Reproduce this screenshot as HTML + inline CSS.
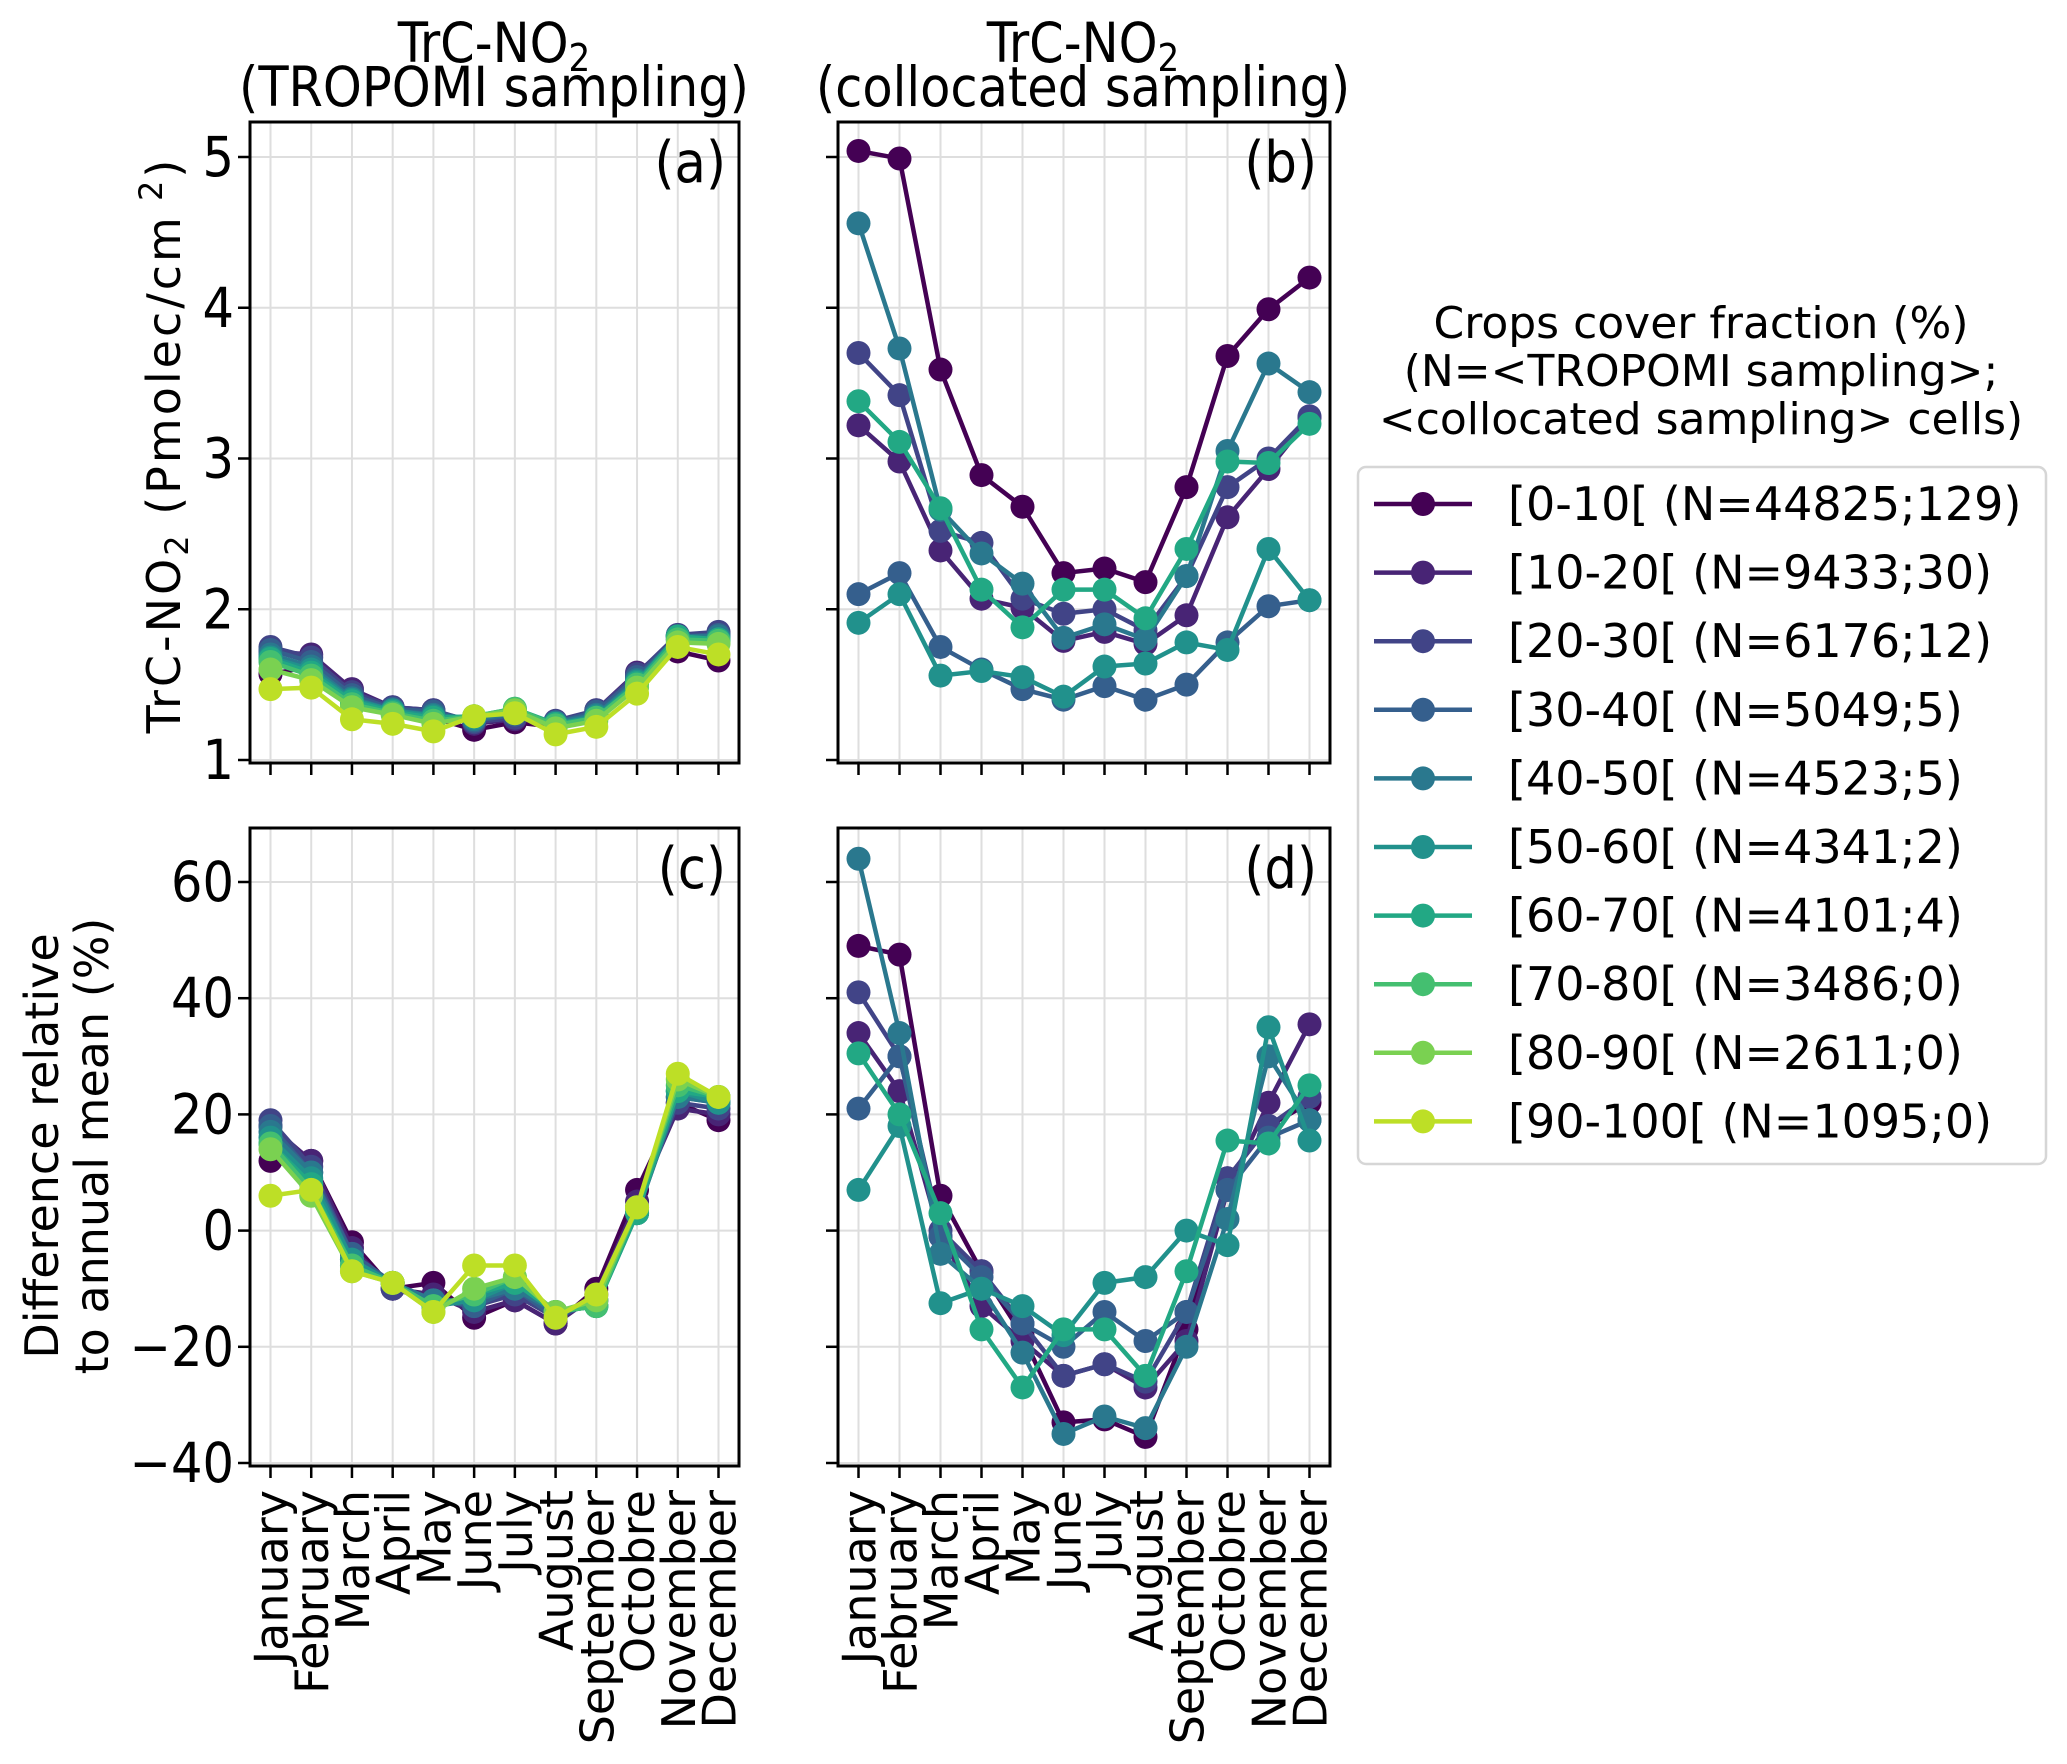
<!DOCTYPE html>
<html><head><meta charset="utf-8"><style>
html,body{margin:0;padding:0;background:#fff;}
svg{display:block;}
.c{font-family:"DejaVu Sans Condensed","DejaVu Sans","Liberation Sans",sans-serif;font-stretch:condensed;}
.n{font-family:"DejaVu Sans","Liberation Sans",sans-serif;}
</style></head><body>
<svg id="fig" width="2067" height="1764" viewBox="0 0 2067 1764" xmlns="http://www.w3.org/2000/svg"></svg>
<script>
const months = ["January","February","March","April","May","June","July","August","September","Octobre","November","December"];
const seriesLabels = ["[0-10[ (N=44825;129)","[10-20[ (N=9433;30)","[20-30[ (N=6176;12)","[30-40[ (N=5049;5)","[40-50[ (N=4523;5)","[50-60[ (N=4341;2)","[60-70[ (N=4101;4)","[70-80[ (N=3486;0)","[80-90[ (N=2611;0)","[90-100[ (N=1095;0)"];
const colors = ["#440154","#482475","#414487","#355f8d","#2a788e","#21918c","#22a884","#44bf70","#7ad151","#bddf26"];
const yTicksTop = [1,2,3,4,5];
const yTicksBottom = [-40,-20,0,20,40,60];
const dataA = [
[1.57,1.62,1.40,1.31,1.28,1.20,1.25,1.22,1.30,1.55,1.72,1.66],
[1.72,1.70,1.47,1.35,1.33,1.24,1.27,1.25,1.33,1.58,1.80,1.84],
[1.75,1.68,1.45,1.35,1.33,1.25,1.28,1.26,1.33,1.57,1.83,1.85],
[1.73,1.65,1.43,1.34,1.32,1.26,1.30,1.25,1.32,1.55,1.82,1.83],
[1.70,1.62,1.41,1.33,1.30,1.27,1.31,1.25,1.30,1.53,1.82,1.82],
[1.68,1.60,1.40,1.33,1.29,1.28,1.33,1.24,1.29,1.52,1.82,1.80],
[1.67,1.58,1.39,1.32,1.28,1.29,1.34,1.24,1.28,1.51,1.82,1.80],
[1.65,1.56,1.37,1.31,1.26,1.29,1.34,1.23,1.28,1.50,1.80,1.79],
[1.60,1.53,1.35,1.30,1.24,1.29,1.33,1.21,1.26,1.48,1.78,1.77],
[1.47,1.48,1.27,1.24,1.19,1.29,1.31,1.17,1.22,1.44,1.75,1.70]];
const dataB = [
[5.04,4.99,3.59,2.89,2.68,2.24,2.27,2.18,2.81,3.68,3.99,4.20],
[3.22,2.98,2.39,2.07,2.01,1.79,1.85,1.77,1.96,2.61,2.93,3.27],
[3.70,3.42,2.52,2.44,2.07,1.97,2.00,1.86,2.22,2.81,3.00,3.28],
[2.10,2.24,1.75,1.60,1.47,1.40,1.49,1.40,1.50,1.78,2.02,2.06],
[4.56,3.73,2.66,2.37,2.17,1.81,1.90,1.80,2.22,3.05,3.63,3.44],
[1.91,2.10,1.56,1.59,1.55,1.42,1.62,1.64,1.78,1.73,2.40,2.06],
[3.38,3.11,2.67,2.13,1.88,2.13,2.13,1.94,2.40,2.98,2.97,3.23]];
const dataC = [
[12,12,-2,-10,-9,-15,-12,-16,-10,7,22,19],
[18,12,-3,-10,-11,-14,-12,-16,-11,5,21,20],
[19,11,-4,-10,-12,-13,-11,-15,-12,4,22,21],
[18,10,-4,-9,-12,-13,-10,-15,-12,3,23,22],
[17,10,-5,-9,-12,-12,-10,-14,-13,3,23,22],
[16,9,-5,-9,-13,-12,-9,-14,-13,3,24,22],
[15,8,-6,-9,-13,-11,-9,-14,-13,3,24,23],
[15,7,-6,-9,-13,-11,-8,-14,-13,4,25,23],
[14,6,-7,-9,-14,-10,-8,-14,-12,4,26,23],
[6,7,-7,-9,-14,-6,-6,-15,-11,4,27,23]];
const dataD = [
[49,47.5,6,-7,-18,-33,-32.5,-35.5,-17,9,18,22],
[34,24,-1,-13,-19,-25,-23,-27,-19,7,22,35.5],
[41,30,0,-7,-16,-25,-23,-26,-14,9,18,23],
[21,30,-1,-8,-16,-20,-14,-19,-14,7,16,19],
[64,34,-4,-10,-21,-35,-32,-34,-20,2,30,19],
[7,18,-12.5,-10,-13,-18,-9,-8,0,-2.5,35,15.5],
[30.5,20,3,-17,-27,-17,-17,-25,-7,15.5,15,25]];

const NS="http://www.w3.org/2000/svg";
const svg=document.getElementById('fig');
function el(tag,attrs,parent,text){const e=document.createElementNS(NS,tag);for(const k in attrs)e.setAttribute(k,attrs[k]);if(text!==undefined)e.textContent=text;(parent||svg).appendChild(e);return e;}

function panel(name,L,R,T,B,ymin,ymax,yTicks,showYLabels,showX,data,letter){
  const g=el('g',{});
  
  
  const x0=L+20.5,x1=R-20.5;
  const xs=i=>x0+(x1-x0)*i/(months.length-1);
  const ys=v=>B-(v-ymin)/(ymax-ymin)*(B-T);
  months.forEach((m,i)=>{
    el('line',{x1:xs(i),x2:xs(i),y1:T,y2:B,stroke:'#dedede','stroke-width':2},g);
    const t=el('line',{x1:xs(i),x2:xs(i),y1:B,y2:B+12,stroke:'#000','stroke-width':2.5},g);
    
    
    if(showX){
      const tx=el('text',{x:xs(i)+17,y:B+24,transform:`rotate(-90 ${xs(i)+17} ${B+24})`,'text-anchor':'end','font-size':46,class:'n'},g,m);
      
      
    }
  });
  yTicks.forEach(v=>{
    el('line',{x1:L,x2:R,y1:ys(v),y2:ys(v),stroke:'#dedede','stroke-width':2},g);
    el('line',{x1:L-12,x2:L,y1:ys(v),y2:ys(v),stroke:'#000','stroke-width':2.5},g);
    if(showYLabels){
      const s=v<0?'\u2212'+(-v):String(v);
      const tl=el('text',{x:L-16,y:ys(v)+19,'text-anchor':'end','font-size':55,class:'c'},g,s);
      
      
    }
  });
  data.forEach((row,si)=>{
    const sg=el('g',{},g);
    
    
    el('polyline',{points:row.map((v,i)=>xs(i)+','+ys(v)).join(' '),fill:'none',stroke:colors[si],'stroke-width':4.5,'stroke-linejoin':'round'},sg);
    row.forEach((v,i)=>{
      const c=el('circle',{cx:xs(i),cy:ys(v),r:12,fill:colors[si]},sg);
      
      
    });
  });
  const fr=el('rect',{x:L,y:T,width:R-L,height:B-T,fill:'none',stroke:'#000','stroke-width':3},g);
  
  
  const lt=el('text',{x:R-13,y:T+60,'text-anchor':'end','font-size':57,class:'c'},g,letter);
  
  
  return {xs,ys};
}
const TopT=122,TopB=763,BotT=828,BotB=1466;
const topMin=1-(763-760)/150.75, topMax=5+(157-122)/150.75;
const botPer=(1463-882)/100;
const botMin=-40-(1466-1463)/botPer, botMax=60+(882-828)/botPer;
panel('a',250,739,TopT,TopB,topMin,topMax,yTicksTop,true,false,dataA,'(a)');
panel('b',838,1330,TopT,TopB,topMin,topMax,yTicksTop,false,false,dataB,'(b)');
panel('c',250,739,BotT,BotB,botMin,botMax,yTicksBottom,true,true,dataC,'(c)');
panel('d',838,1330,BotT,BotB,botMin,botMax,yTicksBottom,false,true,dataD,'(d)');

function title(cx,l2,nm){
  const t=el('text',{x:cx,y:62,'text-anchor':'middle','font-size':55,class:'c'});
  
  
  t.appendChild(document.createTextNode('TrC-NO'));
  el('tspan',{'font-size':38,dy:9},t,'2');
  el('text',{x:cx,y:106,'text-anchor':'middle','font-size':55,class:'c'},undefined,l2);
}
title(494,'(TROPOMI sampling)','panel-a');
title(1083,'(collocated sampling)','panel-b');

const yl=el('text',{x:180,y:445,transform:'rotate(-90 180 445)','text-anchor':'middle','font-size':46,class:'n','letter-spacing':3});


yl.appendChild(document.createTextNode('TrC-NO'));
el('tspan',{'font-size':32,dy:8},yl,'2');
el('tspan',{dy:-8},yl,'  (Pmolec/cm');
el('tspan',{'font-size':32,dy:-18},yl,' 2');
el('tspan',{dy:18},yl,')');
const yb=el('text',{x:0,y:0,transform:'translate(58 1146) rotate(-90)','text-anchor':'middle','font-size':46,class:'n'});


el('tspan',{x:0,y:0},yb,'Difference relative');
el('tspan',{x:0,y:50},yb,'to annual mean (%)');

const lg=el('g',{});


['Crops cover fraction (%)','(N=<TROPOMI sampling>;','<collocated sampling> cells)'].forEach((s,i)=>{
  el('text',{x:1701,y:338+i*48,'text-anchor':'middle','font-size':44,class:'n'},lg,s);
});
el('rect',{x:1358,y:467,width:688,height:697,rx:8,fill:'#fff',stroke:'#d6d6d6','stroke-width':2.5},lg);
seriesLabels.forEach((s,i)=>{
  const y=504+i*68.6;
  const e=el('g',{},lg);
  
  
  el('line',{x1:1374,x2:1472,y1:y,y2:y,stroke:colors[i],'stroke-width':4.5},e);
  el('circle',{cx:1423,cy:y,r:12,fill:colors[i]},e);
  el('text',{x:1508,y:y+16,'font-size':46,class:'n'},e,s);
});
</script>
</body></html>
